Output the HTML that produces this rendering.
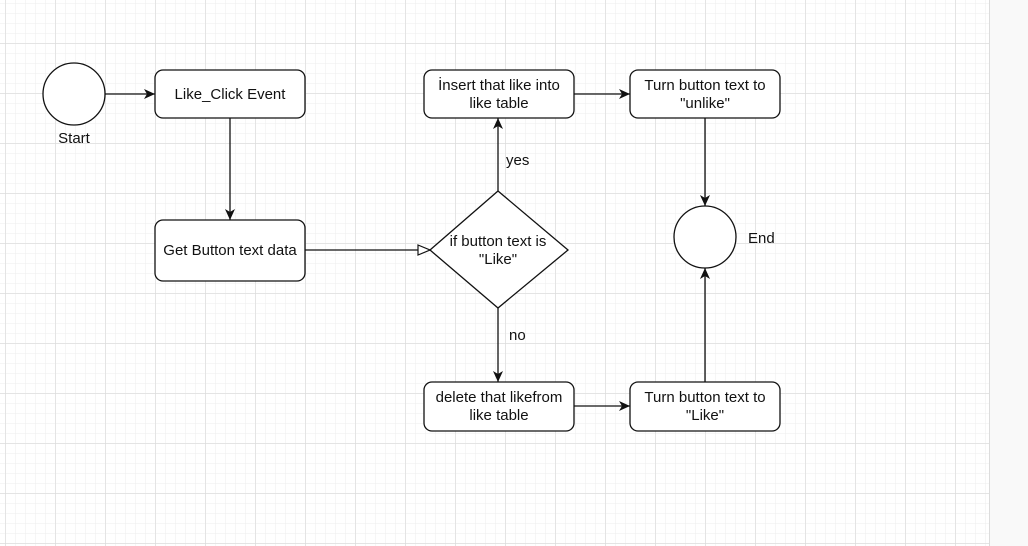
<!DOCTYPE html>
<html><head><meta charset="utf-8"><style>
html,body{margin:0;padding:0;background:#fafafa;}
body{width:1028px;height:546px;overflow:hidden;position:relative;}
svg{position:absolute;left:0;top:0;}
text{font-family:"Liberation Sans",Arial,sans-serif;font-size:15px;fill:#111;}
</style></head><body>
<svg width="1028" height="546" viewBox="0 0 1028 546">
<defs>
<pattern id="minor" width="10" height="10" patternUnits="userSpaceOnUse" x="5" y="3">
<path d="M0 0H10M0 0V10" stroke="#eeeeee" stroke-width="1" fill="none"/>
</pattern>
<pattern id="major" width="50" height="50" patternUnits="userSpaceOnUse" x="5.5" y="43.5">
<path d="M0 0H50M0 0V50" stroke="#d9d9d9" stroke-width="1" fill="none"/>
</pattern>
<marker id="ar" markerWidth="12" markerHeight="10" refX="11" refY="5" orient="auto" markerUnits="userSpaceOnUse">
<path d="M0 0 L11 5 L0 10 L3 5 Z" fill="#111"/>
</marker>
<marker id="tri" markerWidth="14" markerHeight="12" refX="13" refY="6" orient="auto" markerUnits="userSpaceOnUse">
<path d="M1 1 L13 6 L1 11 Z" fill="#fff" stroke="#111" stroke-width="1.2"/>
</marker>
</defs>
<rect x="0" y="0" width="989" height="546" fill="#fff"/>
<rect x="0" y="0" width="989" height="546" fill="url(#minor)"/>
<rect x="0" y="0" width="989" height="546" fill="url(#major)"/>
<line x1="989.5" y1="0" x2="989.5" y2="546" stroke="#dcdcdc"/>
<rect x="990" y="0" width="38" height="546" fill="#f9f9f9"/>

<g stroke="#111" stroke-width="1.3" fill="#fff">
<circle cx="74" cy="94" r="31"/>
<rect x="155" y="70" width="150" height="48" rx="8"/>
<rect x="155" y="220" width="150" height="61" rx="8"/>
<path d="M498 191 L568 250 L498 308 L430 250 Z"/>
<rect x="424" y="70" width="150" height="48" rx="8"/>
<rect x="630" y="70" width="150" height="48" rx="8"/>
<circle cx="705" cy="237" r="31"/>
<rect x="424" y="382" width="150" height="49" rx="8"/>
<rect x="630" y="382" width="150" height="49" rx="8"/>
</g>

<g stroke="#111" stroke-width="1.3" fill="none">
<line x1="105" y1="94" x2="155" y2="94" marker-end="url(#ar)"/>
<line x1="230" y1="118" x2="230" y2="220" marker-end="url(#ar)"/>
<line x1="305" y1="250" x2="430" y2="250" marker-end="url(#tri)"/>
<line x1="498" y1="191" x2="498" y2="118" marker-end="url(#ar)"/>
<line x1="498" y1="308" x2="498" y2="382" marker-end="url(#ar)"/>
<line x1="574" y1="94" x2="630" y2="94" marker-end="url(#ar)"/>
<line x1="574" y1="406" x2="630" y2="406" marker-end="url(#ar)"/>
<line x1="705" y1="118" x2="705" y2="206" marker-end="url(#ar)"/>
<line x1="705" y1="382" x2="705" y2="268" marker-end="url(#ar)"/>
</g>

<g text-anchor="middle">
<text x="74" y="143">Start</text>
<text x="230" y="99">Like_Click Event</text>
<text x="230" y="255">Get Button text data</text>
<text x="498" y="246">if button text is</text>
<text x="498" y="264">"Like"</text>
<text x="499" y="90">İnsert that like into</text>
<text x="499" y="108">like table</text>
<text x="705" y="90">Turn button text to</text>
<text x="705" y="108">"unlike"</text>
<text x="499" y="402">delete that likefrom</text>
<text x="499" y="420">like table</text>
<text x="705" y="402">Turn button text to</text>
<text x="705" y="420">"Like"</text>
</g>
<text x="506" y="165">yes</text>
<text x="509" y="340">no</text>
<text x="748" y="243">End</text>
</svg>
</body></html>
